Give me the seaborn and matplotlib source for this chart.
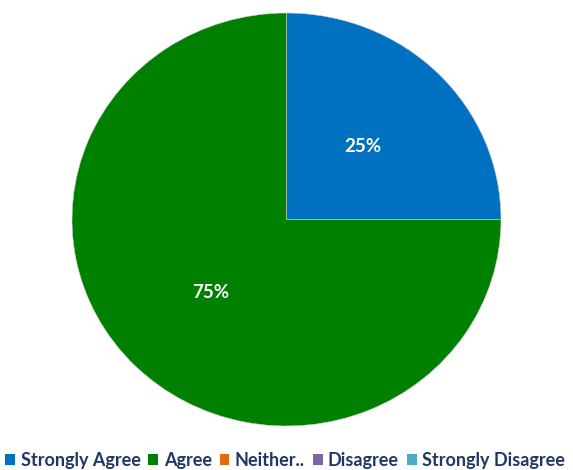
import matplotlib
matplotlib.use("Agg")
import seaborn as sns
from matplotlib import pyplot as plt
from matplotlib.patches import Patch

categories = ["Strongly Agree", "Agree", "Neither..", "Disagree", "Strongly Disagree"]
shares = [25, 75, 0, 0, 0]
colours = ["#0070C0", "#008000", "#E36C09", "#8064A2", "#4BACC6"]

sns.set_style("white")
plt.rcParams['font.family'] = ['Lato', 'DejaVu Sans']

fig = plt.figure(figsize=(5.73, 4.70), dpi=100)
ax = fig.add_axes([0, 0, 1, 1])

# the pie in the original is slightly squashed vertically
yscale = 206.5 / 214.5
vals = [v for v in shares if v > 0]
cols = [c for v, c in zip(shares, colours) if v > 0]
wedges, texts, autotexts = ax.pie(
    vals, colors=cols, startangle=90, counterclock=False,
    center=(286.5, 250.5 / yscale), radius=214.5, autopct='%1.0f%%', pctdistance=0.5,
    wedgeprops=dict(linewidth=0.4, edgecolor='#d0d0d0'),
    textprops=dict(color='white', fontsize=13.5, fontweight='bold'))
ax.set_xlim(0, 573)
ax.set_ylim(0, 470 / yscale)
ax.set_aspect('auto')
ax.axis('off')

handles = [Patch(facecolor=c, edgecolor='none') for c in colours]
fig.legend(handles, categories, loc='lower left', bbox_to_anchor=(0.0, -0.009),
           ncol=5, frameon=False, handlelength=0.55, handleheight=0.55,
           handletextpad=0.3, columnspacing=0.43, borderaxespad=0, borderpad=0.3,
           prop=dict(size=13, weight='bold'), labelcolor='#1F3864')

fig.savefig('out.png', dpi=100)
